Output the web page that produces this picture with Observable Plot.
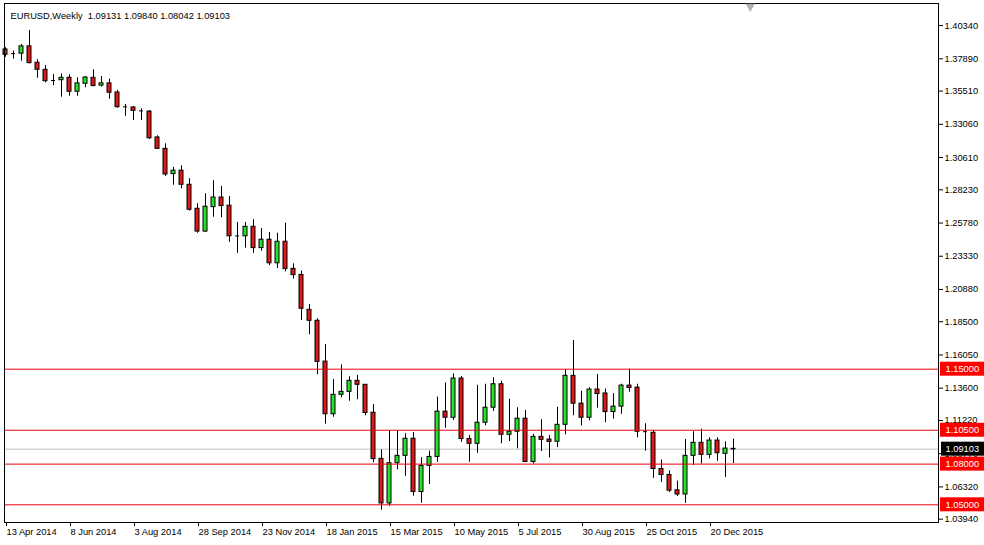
<!DOCTYPE html>
<html>
<head>
<meta charset="utf-8">
<script src="https://cdn.jsdelivr.net/npm/d3@7"></script>
<script src="https://cdn.jsdelivr.net/npm/@observablehq/plot@0.6"></script>
<style>
  html, body { margin: 0; padding: 0; background: #ffffff; }
  #chart { width: 984px; height: 545px; overflow: hidden; }
</style>
</head>
<body>
<div id="chart"></div>
<script>
// ---- Data (EURUSD weekly candles, first bar = week of 13 Apr 2014) ----
const symbol = "EURUSD,Weekly";

const open = [
  1.3858, 1.3827, 1.3827, 1.3881, 1.3760, 1.3708, 1.3629, 1.3631, 1.3649, 1.3546,
  1.3605, 1.3649, 1.3591, 1.3608, 1.3541, 1.3435, 1.3430, 1.3405, 1.3400, 1.3209,
  1.3125, 1.2939, 1.2964, 1.2860, 1.2683, 1.2515, 1.2695, 1.2766, 1.2706, 1.2483,
  1.2480, 1.2550, 1.2393, 1.2455, 1.2281, 1.2440, 1.2240, 1.2195, 1.1938, 1.1857,
  1.1556, 1.1168, 1.1311, 1.1333, 1.1414, 1.1385, 1.1179, 1.0839, 1.0510, 1.0807,
  1.0861, 1.0987, 1.0594, 1.0787, 1.0853, 1.1187, 1.1142, 1.1431, 1.0985, 1.0950,
  1.1105, 1.1216, 1.1389, 1.1016, 1.1039, 1.1135, 1.0816, 1.1001, 1.0981, 1.0965,
  1.1090, 1.1451, 1.1246, 1.1142, 1.1350, 1.1321, 1.1184, 1.1224, 1.1379, 1.1364,
  1.1039, 1.1031, 1.0764, 1.0720, 1.0607, 1.0576, 1.0861, 1.0957, 1.0868, 1.0974,
  1.0876, 1.09131
];
const high = [
  1.3871, 1.3846, 1.3895, 1.3998, 1.3782, 1.3740, 1.3673, 1.3678, 1.3671, 1.3649,
  1.3658, 1.3708, 1.3658, 1.3639, 1.3556, 1.3452, 1.3437, 1.3420, 1.3408, 1.3221,
  1.3162, 1.2988, 1.3000, 1.2905, 1.2720, 1.2794, 1.2890, 1.2848, 1.2773, 1.2582,
  1.2582, 1.2602, 1.2537, 1.2508, 1.2503, 1.2577, 1.2277, 1.2224, 1.1977, 1.1872,
  1.1682, 1.1424, 1.1532, 1.1444, 1.1454, 1.1387, 1.1239, 1.0905, 1.1048, 1.1048,
  1.1024, 1.1033, 1.0847, 1.0896, 1.1294, 1.1399, 1.1466, 1.1446, 1.1011, 1.1381,
  1.1389, 1.1437, 1.1411, 1.1278, 1.1216, 1.1196, 1.1019, 1.1127, 1.1011, 1.1219,
  1.1496, 1.1712, 1.1337, 1.1364, 1.1461, 1.1354, 1.1320, 1.1389, 1.1500, 1.1389,
  1.1098, 1.1048, 1.0831, 1.0750, 1.0675, 1.0981, 1.1039, 1.1058, 1.0994, 1.0994,
  1.0964, 1.09840
];
const low = [
  1.3801, 1.3787, 1.3772, 1.3752, 1.3646, 1.3612, 1.3590, 1.3506, 1.3513, 1.3513,
  1.3576, 1.3583, 1.3580, 1.3491, 1.3425, 1.3365, 1.3334, 1.3334, 1.3194, 1.3125,
  1.2922, 1.2857, 1.2831, 1.2666, 1.2503, 1.2510, 1.2621, 1.2617, 1.2436, 1.2355,
  1.2393, 1.2355, 1.2370, 1.2264, 1.2242, 1.2218, 1.2164, 1.1859, 1.1754, 1.1459,
  1.1095, 1.1146, 1.1289, 1.1264, 1.1275, 1.1156, 1.0811, 1.0461, 1.0489, 1.0759,
  1.0710, 1.0564, 1.0511, 1.0650, 1.0813, 1.1065, 1.1122, 1.0961, 1.0813, 1.0880,
  1.1083, 1.1189, 1.0950, 1.0967, 1.0913, 1.0815, 1.0801, 1.0893, 1.0846, 1.0922,
  1.1016, 1.1157, 1.1081, 1.1120, 1.1213, 1.1105, 1.1132, 1.1167, 1.1330, 1.0994,
  1.0895, 1.0695, 1.0665, 1.0591, 1.0561, 1.0510, 1.0791, 1.0801, 1.0839, 1.0821,
  1.0702, 1.08042
];
const close = [
  1.3819, 1.3827, 1.3881, 1.3757, 1.3708, 1.3624, 1.3629, 1.3649, 1.3546, 1.3608,
  1.3651, 1.3588, 1.3608, 1.3539, 1.3432, 1.3435, 1.3405, 1.3405, 1.3203, 1.3125,
  1.2936, 1.2964, 1.2860, 1.2676, 1.2515, 1.2698, 1.2766, 1.2703, 1.2480, 1.2483,
  1.2550, 1.2393, 1.2455, 1.2281, 1.2440, 1.2238, 1.2194, 1.1946, 1.1857, 1.1554,
  1.1168, 1.1311, 1.1333, 1.1414, 1.1385, 1.1177, 1.0837, 1.0510, 1.0807, 1.0861,
  1.0987, 1.0594, 1.0787, 1.0853, 1.1187, 1.1142, 1.1431, 1.0985, 1.0950, 1.1105,
  1.1216, 1.1389, 1.1016, 1.1039, 1.1135, 1.0816, 1.1001, 1.0979, 1.0964, 1.1090,
  1.1451, 1.1246, 1.1142, 1.1350, 1.1317, 1.1184, 1.1224, 1.1379, 1.1361, 1.1039,
  1.1039, 1.0764, 1.0720, 1.0604, 1.0576, 1.0861, 1.0957, 1.0868, 1.0974, 1.0880,
  1.0915, 1.09103
];

// horizontal support / resistance levels and the current bid line
const levels = [1.15, 1.105, 1.08, 1.05];
const lastPrice = 1.09103;

// right price-axis tick labels
const priceTicks = [1.40340, 1.37890, 1.35510, 1.33060, 1.30610, 1.28230, 1.25780, 1.23330,
                    1.20880, 1.18500, 1.16050, 1.13600, 1.11220, 1.08770, 1.06320, 1.03940];

// bottom time-axis labels (one every 8 weekly bars)
const dateTickBars = [0, 8, 16, 24, 32, 40, 48, 56, 64, 72, 80, 88];
const dateTickLabels = ["13 Apr 2014", "8 Jun 2014", "3 Aug 2014", "28 Sep 2014", "23 Nov 2014",
                        "18 Jan 2015", "15 Mar 2015", "10 May 2015", "5 Jul 2015", "30 Aug 2015",
                        "25 Oct 2015", "20 Dec 2015"];

// chart shift marker (bar position of the grey triangle on top)
const shiftMarker = [93.1];

// ---- Build ----
const fmt5 = d3.format(".5f");
const candles = open.map((o, i) => ({i, open: o, high: high[i], low: low[i], close: close[i]}));
const last = candles[candles.length - 1];
const titleText = symbol + "\u00a0\u00a0" + [last.open, last.high, last.low, last.close].map(fmt5).join(" ");

const bull = "#25e025", bear = "#e01515", lineRed = "#e8000b";
const bodyFill = d => d.close > d.open ? bull : d.close < d.open ? bear : "black";

const W = 984, H = 545;
const mL = 4, mR = 46, mT = 3, mB = 23;
const barPx = 8;
const xDomain = [-0.125, (W - mR - mL) / barPx - 0.125];
const yDomain = [1.03695, 1.41969];

const chart = Plot.plot({
  width: W,
  height: H,
  marginLeft: mL,
  marginRight: mR,
  marginTop: mT,
  marginBottom: mB,
  style: {fontFamily: "'Liberation Sans', Arial, sans-serif", fontSize: "9.3px", background: "#ffffff", color: "#000"},
  x: {type: "linear", domain: xDomain, axis: null},
  y: {type: "linear", domain: yDomain, axis: null},
  marks: [
    // current price line
    Plot.ruleY([lastPrice], {stroke: "#c0c0c0", strokeWidth: 1}),
    // wicks
    Plot.ruleX(candles, {x: "i", y1: "low", y2: "high", stroke: "black", strokeWidth: 1}),
    // bodies
    Plot.rect(candles, {x1: d => d.i - 0.25, x2: d => d.i + 0.25, y1: "open", y2: "close",
                        fill: bodyFill, stroke: "black", strokeWidth: 1}),
    // doji / open tick line
    Plot.ruleY(candles.filter(d => Math.abs(d.close - d.open) < 0.0004), {y: "open", x1: d => d.i - 0.25, x2: d => d.i + 0.25, stroke: "black", strokeWidth: 1}),
    // horizontal levels
    Plot.ruleY(levels, {stroke: lineRed, strokeWidth: 1}),
    // frame
    Plot.frame({stroke: "black", strokeWidth: 1}),
    // right price axis
    Plot.axisY(priceTicks, {anchor: "right", tickFormat: fmt5, tickSize: 4, tickPadding: 2, label: null, textAnchor: "start"}),
    // bottom time axis
    Plot.axisX(dateTickBars, {anchor: "bottom", tickFormat: (d, k) => dateTickLabels[k], tickSize: 4, tickPadding: 2,
                              textAnchor: "start", dx: 1, label: null}),
    // level label boxes on the price axis
    Plot.rect(levels, {y1: d => d, y2: d => d, insetTop: -7, insetBottom: -7, insetLeft: W - mR - mL - 1 + 4 - 4 + 3, insetRight: -mR, fill: "#ff0000"}),
    Plot.text(levels, {y: d => d, text: d => fmt5(d), frameAnchor: "right", dx: 7, textAnchor: "start", fill: "white"}),
    // current price box
    Plot.rect([lastPrice], {y1: d => d, y2: d => d, insetTop: -7, insetBottom: -7, insetLeft: W - mR - mL + 3, insetRight: -mR, fill: "#000000"}),
    Plot.text([lastPrice], {y: d => d, text: d => fmt5(d), frameAnchor: "right", dx: 7, textAnchor: "start", fill: "white"}),
    // chart shift marker
    Plot.dot(shiftMarker, {x: d => d, frameAnchor: "top", dy: 3, symbol: "triangle", r: 3.5, rotate: 180, fill: "#b0b0b0", stroke: "none"}),
    // title
    Plot.text([titleText], {frameAnchor: "top-left", dx: 6, dy: 9, textAnchor: "start", fill: "black"})
  ]
});

document.getElementById("chart").appendChild(chart);
</script>
</body>
</html>
